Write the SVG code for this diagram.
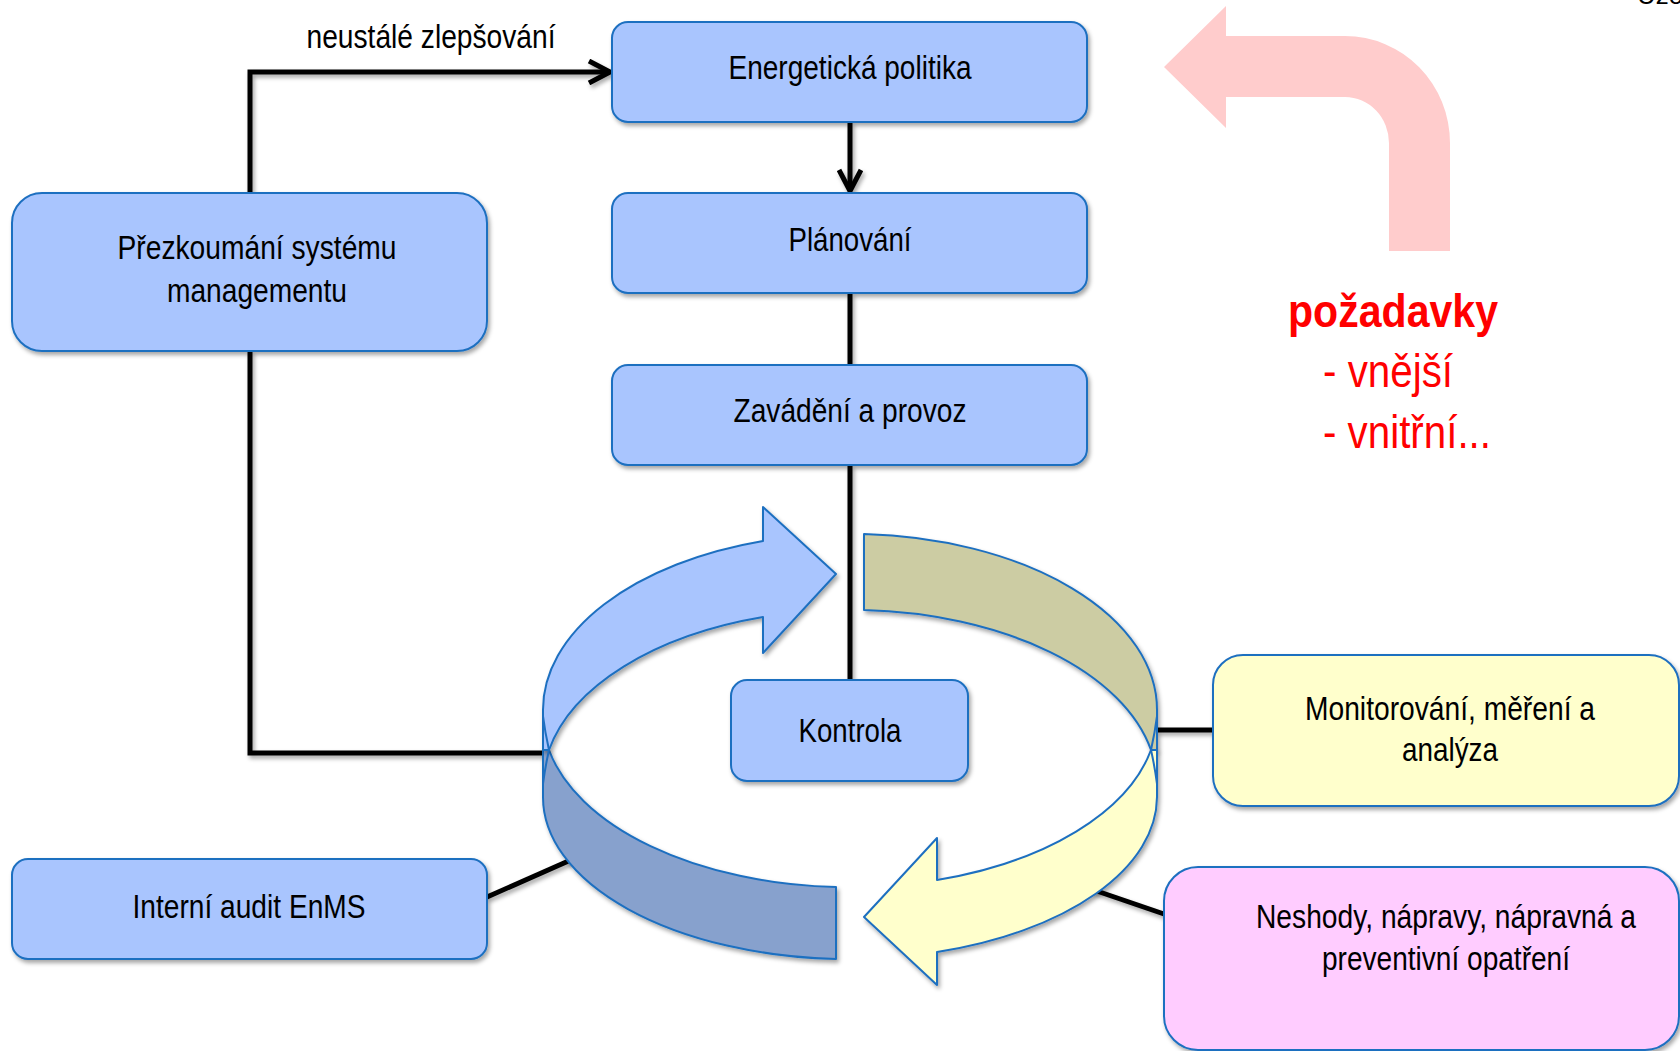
<svg xmlns="http://www.w3.org/2000/svg" width="1680" height="1051" viewBox="0 0 1680 1051">
<defs>
<style>
.box{stroke:#1F6FC0;stroke-width:2;filter:url(#sh)}
.blue{fill:#A9C5FE}
.yel{fill:#FFFFCC}
.pink{fill:#FFCCFF}
.t{font-family:"Liberation Sans Narrow","Liberation Sans",Arial,sans-serif;font-size:33px;fill:#000;text-anchor:middle}
.conn{stroke:#000;stroke-width:5;fill:none;stroke-linecap:butt}
.band{stroke:#1F6FC0;stroke-width:2;stroke-linejoin:round;filter:url(#sh)}
.edge{stroke:#1F6FC0;stroke-width:2;fill:none}
.req{font-family:"Liberation Sans Narrow","Liberation Sans",Arial,sans-serif;fill:#FF0000;font-size:46px}
</style>
<filter id="sh" x="-10%" y="-10%" width="130%" height="140%">
<feDropShadow dx="2" dy="3" stdDeviation="2" flood-color="#000" flood-opacity="0.35"/>
</filter>
<marker id="ah" viewBox="0 0 26 26" refX="23" refY="13" markerWidth="26" markerHeight="26" markerUnits="userSpaceOnUse" orient="auto">
<path d="M2,2 L23,13 L2,24" fill="none" stroke="#000" stroke-width="5" stroke-linejoin="miter"/>
</marker>
</defs>
<rect width="1680" height="1051" fill="#FFFFFF"/>

<text x="1637" y="4" font-family="Liberation Sans, Arial, sans-serif" font-size="26" fill="#000">Uzo</text>

<g id="pozadavky-arrow">
<path d="M1164,67 L1226,6 L1226,36 L1345,36 A105,107 0 0 1 1450,143 L1450,251 L1389,251 L1389,143 A44,46 0 0 0 1345,97 L1226,97 L1226,128 Z" fill="#FFCCCC"/>
</g>
<g id="pozadavky-text">
<text class="req" x="1393" y="327" text-anchor="middle" font-weight="bold" textLength="210" lengthAdjust="spacingAndGlyphs">požadavky</text>
<text class="req" x="1323" y="387" textLength="130" lengthAdjust="spacingAndGlyphs">- vnější</text>
<text class="req" x="1323" y="448" textLength="168" lengthAdjust="spacingAndGlyphs">- vnitřní...</text>
</g>

<g id="connectors" filter="url(#sh)">
<polyline class="conn" points="250,193 250,72 610,72" marker-end="url(#ah)"/>
<line class="conn" x1="850" y1="122" x2="850" y2="191" marker-end="url(#ah)"/>
<line class="conn" x1="850" y1="293" x2="850" y2="365"/>
<line class="conn" x1="850" y1="465" x2="850" y2="680"/>
<polyline class="conn" points="250,351 250,753 545,753"/>
<line class="conn" x1="487" y1="897" x2="573" y2="859"/>
<line class="conn" x1="1213" y1="730" x2="1157" y2="730"/>
<line class="conn" x1="1164" y1="914" x2="1088" y2="888"/>
</g>
<text class="t" x="431" y="48" textLength="249" lengthAdjust="spacingAndGlyphs">neustálé zlepšování</text>

<g id="cycle">
<path class="band" fill="#87A1CD" d="M836,887 L836,959 A307,162 0 0 1 543,797 L543,750 L549,750 A307,172 0 0 0 836,887 Z"/>
<path class="band" fill="#A9C5FE" d="M763,541 L763,507 L836,574 L763,653 L763,617 A307,175 0 0 0 549,750 L543,750 L543,710 A307,176 0 0 1 763,541 Z"/>
<path class="band" fill="#CCCCA3" d="M864,534 A307,176 0 0 1 1157,710 L1157,750 L1151,750 A307,175 0 0 0 864,610 Z"/>
<path class="band" fill="#FFFFCC" d="M1151,750 L1157,750 L1157,797 A307,162 0 0 1 937,952 L937,985 L864,917 L937,838 L937,880 A307,172 0 0 0 1151,750 Z"/>
<path class="edge" d="M549,750 Q545,768 543,784 M549,750 Q545,732 543,716 M1151,750 Q1155,768 1157,784 M1151,750 Q1155,732 1157,716"/>
</g>

<g id="energeticka-politika">
<rect class="box blue" x="612" y="22" width="475" height="100" rx="16"/>
<text class="t" x="850" y="79" textLength="243" lengthAdjust="spacingAndGlyphs">Energetická politika</text>
</g>
<g id="planovani">
<rect class="box blue" x="612" y="193" width="475" height="100" rx="16"/>
<text class="t" x="850" y="251" textLength="123" lengthAdjust="spacingAndGlyphs">Plánování</text>
</g>
<g id="zavadeni">
<rect class="box blue" x="612" y="365" width="475" height="100" rx="16"/>
<text class="t" x="850" y="422" textLength="233" lengthAdjust="spacingAndGlyphs">Zavádění a provoz</text>
</g>
<g id="prezkoumani">
<rect class="box blue" x="12" y="193" width="475" height="158" rx="30"/>
<text class="t" x="257" y="259" textLength="279" lengthAdjust="spacingAndGlyphs">Přezkoumání systému</text>
<text class="t" x="257" y="302" textLength="180" lengthAdjust="spacingAndGlyphs">managementu</text>
</g>
<g id="interni-audit">
<rect class="box blue" x="12" y="859" width="475" height="100" rx="16"/>
<text class="t" x="249" y="918" textLength="233" lengthAdjust="spacingAndGlyphs">Interní audit EnMS</text>
</g>
<g id="kontrola">
<rect class="box blue" x="731" y="680" width="237" height="101" rx="16"/>
<text class="t" x="850" y="742" textLength="103" lengthAdjust="spacingAndGlyphs">Kontrola</text>
</g>
<g id="monitorovani">
<rect class="box yel" x="1213" y="655" width="466" height="151" rx="30"/>
<text class="t" x="1450" y="720" textLength="290" lengthAdjust="spacingAndGlyphs">Monitorování, měření a</text>
<text class="t" x="1450" y="761" textLength="96" lengthAdjust="spacingAndGlyphs">analýza</text>
</g>
<g id="neshody">
<rect class="box pink" x="1164" y="867" width="515" height="183" rx="34"/>
<text class="t" x="1446" y="928" textLength="380" lengthAdjust="spacingAndGlyphs">Neshody, nápravy, nápravná a</text>
<text class="t" x="1446" y="970" textLength="248" lengthAdjust="spacingAndGlyphs">preventivní opatření</text>
</g>
</svg>
